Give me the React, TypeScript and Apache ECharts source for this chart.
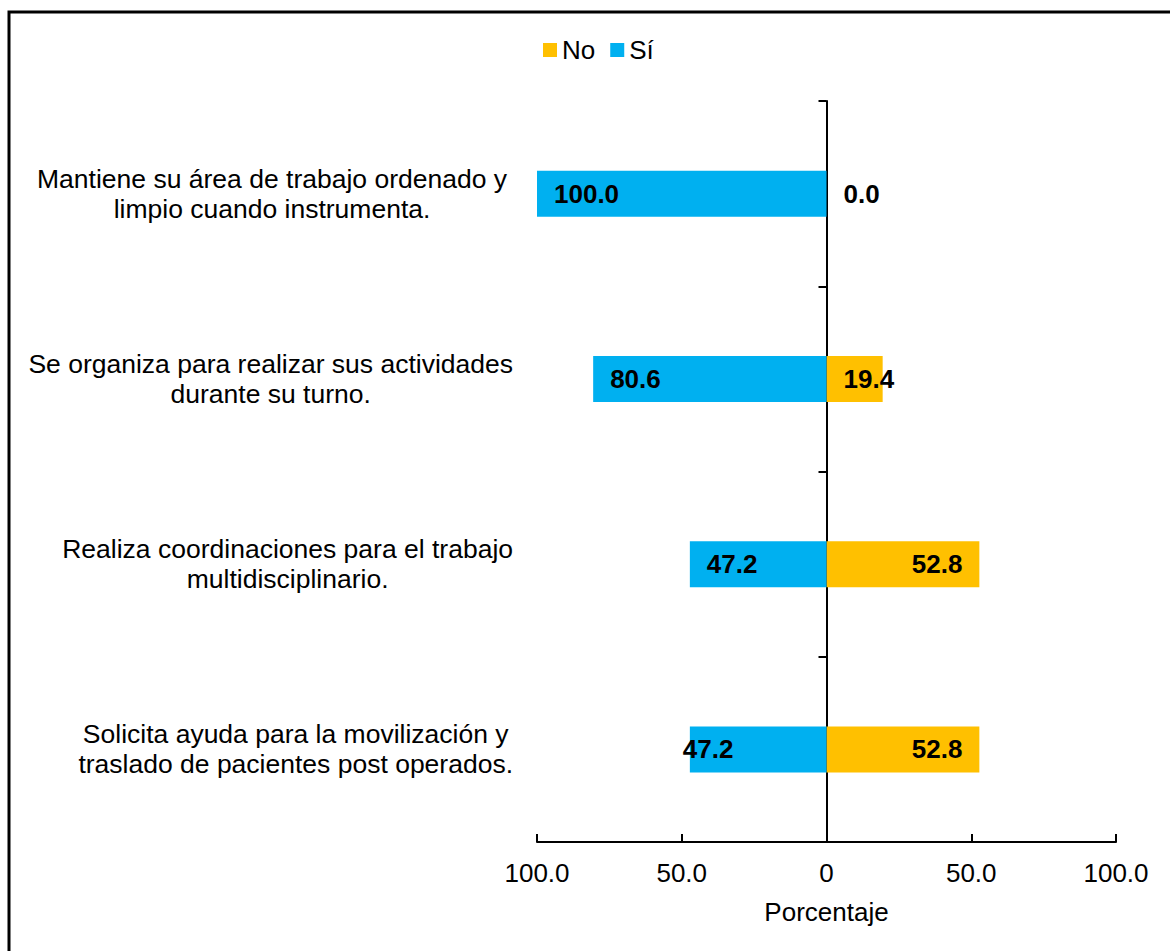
import React, { useEffect, useRef } from "react";
import * as echarts from "echarts";

// Survey items (line breaks as they wrap beside the axis)
const categories: string[] = [
  "Mantiene su área de trabajo ordenado y\nlimpio cuando instrumenta.",
  "Se organiza para realizar sus actividades\ndurante su turno.",
  "Realiza coordinaciones para el trabajo\nmultidisciplinario.",
  "Solicita ayuda para la movilización y\ntraslado de pacientes post operados.",
];

// Percentages per answer
const noValues: number[] = [0.0, 19.4, 52.8, 52.8];
const siValues: number[] = [100.0, 80.6, 47.2, 47.2];

// Axis ticks
const axisMin = -100;
const axisMax = 100;
const axisInterval = 50;

const seriesNames = ["No", "Sí"];
const colors = { no: "#FFC000", si: "#00B0F0" };

const FONT = "'Liberation Sans', Arial, sans-serif";

export default function App() {
  const ref = useRef<HTMLDivElement>(null);

  useEffect(() => {
    if (!ref.current) return;
    const chart = echarts.init(ref.current, null, { renderer: "svg" });

    const valueLabel = {
      show: true,
      fontFamily: FONT,
      fontSize: 26,
      fontWeight: "bold" as const,
      color: "#000",
      distance: 17,
      formatter: (p: any) => Math.abs(p.value).toFixed(1),
    };

    // Short orange bars carry their label from the zero line outward
    const noData = noValues.map((v) =>
      v < 25 ? { value: v, label: { position: "insideLeft" } } : { value: v }
    );
    // The last blue label sits a little past the bar's end
    const siData = siValues.map((v, i) =>
      i === siValues.length - 1
        ? { value: -v, label: { offset: [-24, 0] } }
        : { value: -v }
    );

    chart.setOption({
      animation: false,
      backgroundColor: "#fff",
      textStyle: { fontFamily: FONT },
      graphic: [
        {
          type: "rect",
          shape: { x: 9, y: 12, width: 1300, height: 1100 },
          style: { fill: "none", stroke: "#000", lineWidth: 3 },
          silent: true,
        },
      ],
      legend: {
        data: seriesNames,
        left: 538,
        top: 32,
        itemWidth: 14,
        itemHeight: 14,
        itemGap: 15,
        icon: "rect",
        textStyle: { fontFamily: FONT, fontSize: 26, color: "#000" },
      },
      grid: { left: 537, right: 54, top: 101, bottom: 109, containLabel: false },
      xAxis: {
        type: "value",
        min: axisMin,
        max: axisMax,
        interval: axisInterval,
        name: "Porcentaje",
        nameLocation: "middle",
        nameGap: 57,
        nameTextStyle: { fontFamily: FONT, fontSize: 26, color: "#000" },
        axisLine: { show: true, onZero: false, lineStyle: { color: "#000", width: 2 } },
        axisTick: { show: true, inside: true, length: 8, lineStyle: { color: "#000", width: 2 } },
        axisLabel: {
          margin: 18,
          fontFamily: FONT,
          fontSize: 26,
          color: "#000",
          formatter: (v: number) => (v === 0 ? "0" : Math.abs(v).toFixed(1)),
        },
        splitLine: { show: false },
      },
      yAxis: [
        {
          type: "category",
          inverse: true,
          data: categories.map((c, i) =>
            i === 0 ? { value: c, textStyle: { padding: [0, 6, 0, 0] } } : c
          ),
          axisLine: { show: false, onZero: false },
          axisTick: { show: false },
          axisLabel: {
            margin: 24,
            fontFamily: FONT,
            fontSize: 26.5,
            color: "#000",
            lineHeight: 30,
            formatter: (v: string) =>
              v
                .split("\n")
                .map((l) => `{c|${l}}`)
                .join("\n"),
            rich: { c: { align: "center", fontFamily: FONT, fontSize: 26.5, lineHeight: 30, color: "#000" } },
          },
        },
        {
          type: "category",
          inverse: true,
          position: "right",
          data: categories,
          axisLine: { show: true, onZero: true, lineStyle: { color: "#000", width: 2 } },
          axisTick: { show: true, inside: true, length: 8, lineStyle: { color: "#000", width: 2 } },
          axisLabel: { show: false },
          splitLine: { show: false },
        },
      ],
      series: [
        {
          name: seriesNames[0],
          type: "bar",
          stack: "total",
          barWidth: 46,
          itemStyle: { color: colors.no },
          label: { ...valueLabel, position: "insideRight" },
          data: noData,
          z: 2,
        },
        {
          name: seriesNames[1],
          type: "bar",
          stack: "total",
          barWidth: 46,
          itemStyle: { color: colors.si },
          label: { ...valueLabel, position: "insideLeft" },
          data: siData,
          z: 2,
        },
      ],
    });

    return () => chart.dispose();
  }, []);

  return (
    <div
      ref={ref}
      style={{ position: "fixed", left: 0, top: 0, width: 1170, height: 951 }}
    />
  );
}
